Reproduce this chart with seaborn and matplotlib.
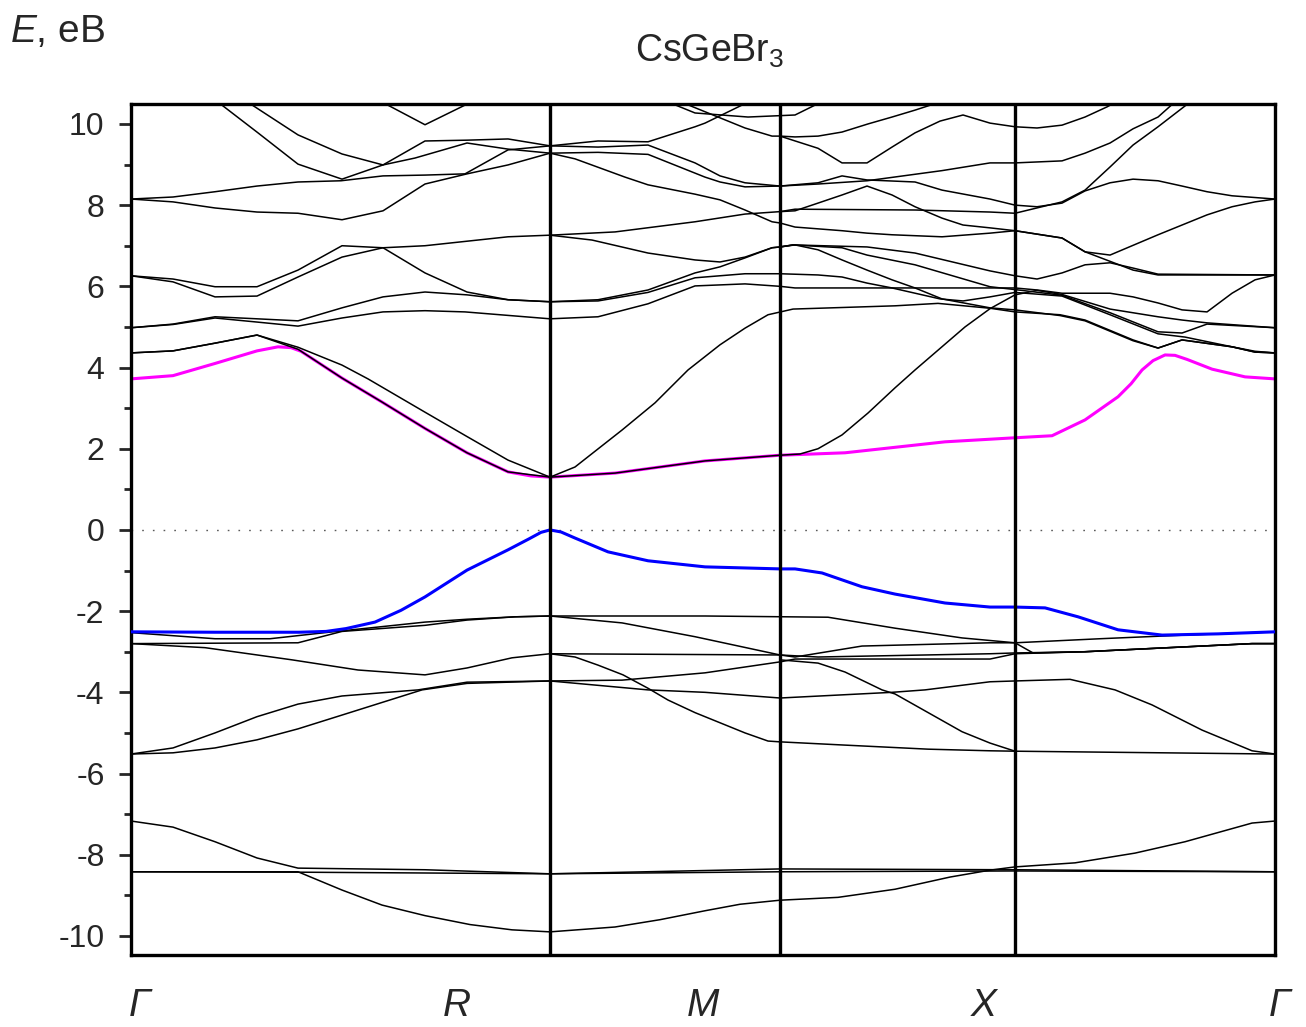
import matplotlib
matplotlib.use("Agg")
import pandas as pd
import seaborn as sns
from matplotlib import pyplot as plt
from matplotlib.ticker import MultipleLocator

# path coordinate of the high-symmetry points (Γ-R-M-X-Γ)
kpoints = [0, 419, 649, 884, 1144]
klabels = ["Γ", "R", "M", "X", "Γ"]
klabel_pos = [0.008, 0.285, 0.5, 0.745, 1.004]   # label centres, axes fraction

# ---- bands, (k, E in eV) -------------------------------------------------
low_1 = [(0, -8.42), (167, -8.42), (211, -8.87), (251, -9.24), (294, -9.5), (339, -9.72),
         (381, -9.85), (419, -9.9), (484, -9.78), (529, -9.6), (574, -9.38), (609, -9.22),
         (649, -9.12), (707, -9.05), (764, -8.85), (819, -8.55), (859, -8.38), (884, -8.3),
         (944, -8.2), (1004, -7.96), (1054, -7.68), (1121, -7.22), (1144, -7.17)]
low_2 = [(0, -7.17), (42, -7.32), (84, -7.68), (126, -8.08), (167, -8.33), (294, -8.37),
         (419, -8.47), (649, -8.35), (884, -8.37), (1144, -8.42)]
low_3 = [(0, -8.42), (167, -8.43), (294, -8.45), (419, -8.47), (649, -8.42), (884, -8.4),
         (1144, -8.42)]

val_1 = [(0, -5.52), (42, -5.49), (84, -5.37), (126, -5.17), (167, -4.9), (211, -4.56),
         (291, -3.94), (336, -3.78), (419, -3.72), (517, -3.94), (574, -4.0), (649, -4.14),
         (761, -4.0), (794, -3.94), (859, -3.74), (884, -3.72), (939, -3.68), (984, -3.94),
         (1021, -4.31), (1071, -4.93), (1121, -5.44), (1144, -5.52)]
val_2 = [(0, -5.52), (42, -5.37), (84, -5.0), (126, -4.6), (167, -4.29), (211, -4.09),
         (287, -3.94), (336, -3.75), (419, -3.72), (491, -3.7), (574, -3.52), (649, -3.25),
         (664, -3.18), (859, -3.18), (884, -3.05), (954, -3.0), (1121, -2.8), (1144, -2.8)]
val_3 = [(0, -2.8), (74, -2.9), (161, -3.2), (227, -3.45), (294, -3.57), (336, -3.4),
         (381, -3.15), (419, -3.05), (574, -3.07), (649, -3.08), (664, -3.13), (731, -2.86),
         (859, -2.78), (884, -2.78), (969, -2.68), (1054, -2.59), (1087, -2.56), (1144, -2.51)]
val_4 = [(0, -2.53), (84, -2.68), (139, -2.68), (194, -2.53), (294, -2.27), (336, -2.2),
         (384, -2.14), (419, -2.12), (574, -2.12), (697, -2.15), (764, -2.42), (831, -2.66),
         (884, -2.78), (902, -3.03), (954, -3.0), (1121, -2.8), (1144, -2.8)]
val_5 = [(0, -2.8), (167, -2.78), (211, -2.5), (294, -2.35), (336, -2.22), (384, -2.14),
         (419, -2.12), (491, -2.29), (564, -2.63), (649, -3.08), (687, -3.13), (859, -3.05),
         (884, -3.03), (954, -3.0), (1121, -2.8), (1144, -2.8)]
val_6 = [(419, -3.05), (444, -3.13), (467, -3.33), (492, -3.57), (517, -3.9), (537, -4.19),
         (564, -4.5), (614, -5.0), (637, -5.2), (649, -5.22), (714, -5.3), (797, -5.4),
         (859, -5.44), (884, -5.45), (1144, -5.52)]
val_7 = [(649, -3.2), (687, -3.28), (714, -3.5), (751, -3.94), (764, -4.04), (831, -4.97),
         (859, -5.25), (884, -5.45)]

# top valence band (blue)
vb_top = [(0, -2.51), (84, -2.52), (168, -2.52), (195, -2.5), (215, -2.43), (244, -2.27),
          (270, -1.98), (294, -1.65), (336, -0.99), (377, -0.49), (398, -0.22), (410, -0.06),
          (419, 0.0), (430, -0.05), (444, -0.2), (477, -0.54), (517, -0.76), (574, -0.91),
          (649, -0.96), (664, -0.96), (691, -1.06), (731, -1.4), (764, -1.58), (814, -1.8),
          (859, -1.9), (884, -1.9), (914, -1.92), (947, -2.14), (987, -2.46), (1031, -2.59),
          (1087, -2.56), (1144, -2.51)]
# bottom conduction band (magenta)
cb_bottom = [(0, 3.72), (42, 3.8), (84, 4.1), (126, 4.41), (147, 4.51), (160, 4.49),
             (170, 4.4), (211, 3.74), (251, 3.15), (294, 2.5), (336, 1.9), (377, 1.43),
             (400, 1.33), (419, 1.3), (484, 1.4), (574, 1.7), (649, 1.84), (714, 1.9),
             (814, 2.17), (884, 2.27), (921, 2.32), (954, 2.71), (987, 3.28), (1000, 3.6),
             (1011, 3.94), (1022, 4.17), (1034, 4.31), (1044, 4.3), (1056, 4.2),
             (1081, 3.96), (1114, 3.77), (1144, 3.72)]

con_1 = [(0, 4.36), (42, 4.41), (84, 4.6), (126, 4.8), (167, 4.45), (211, 3.74), (251, 3.15),
         (294, 2.5), (336, 1.9), (377, 1.43), (419, 1.3), (484, 1.4), (574, 1.7), (649, 1.84),
         (669, 1.87), (687, 2.0), (711, 2.34), (737, 2.88), (764, 3.5), (784, 3.94), (834, 5.0),
         (859, 5.45), (884, 5.79), (906, 5.9), (931, 5.8), (979, 5.44), (1027, 5.25),
         (1051, 5.17), (1076, 5.1), (1144, 4.98)]
con_2 = [(0, 4.36), (42, 4.41), (84, 4.6), (126, 4.8), (167, 4.5), (211, 4.06), (237, 3.72),
         (294, 2.9), (336, 2.3), (377, 1.72), (419, 1.3), (444, 1.55), (491, 2.46), (524, 3.13),
         (557, 3.94), (589, 4.56), (614, 4.97), (637, 5.3), (662, 5.44), (764, 5.52),
         (807, 5.58), (859, 5.46), (884, 5.37), (929, 5.3), (954, 5.17), (1002, 4.68),
         (1027, 4.48), (1051, 4.68), (1101, 4.51), (1124, 4.38), (1144, 4.36)]
con_3 = [(0, 4.98), (42, 5.06), (84, 5.22), (126, 5.12), (167, 5.02), (211, 5.22), (252, 5.37),
         (294, 5.4), (334, 5.37), (419, 5.2), (467, 5.25), (517, 5.57), (564, 6.01), (614, 6.06),
         (649, 6.0), (664, 5.96), (859, 5.96), (884, 5.96), (906, 5.91), (931, 5.83),
         (979, 5.83), (1002, 5.74), (1027, 5.59), (1051, 5.42), (1076, 5.37), (1101, 5.83),
         (1124, 6.16), (1144, 6.28)]
con_4 = [(0, 4.98), (42, 5.07), (84, 5.25), (126, 5.2), (167, 5.15), (211, 5.47), (252, 5.74),
         (294, 5.86), (336, 5.79), (377, 5.67), (419, 5.62), (467, 5.67), (517, 5.91),
         (564, 6.33), (589, 6.48), (614, 6.7), (641, 6.95), (649, 6.97), (662, 7.02),
         (711, 6.95), (736, 6.77), (784, 6.53), (859, 5.99), (884, 5.92), (931, 5.78),
         (979, 5.35), (1027, 4.88), (1051, 4.85), (1076, 5.07), (1144, 4.98)]
con_5 = [(0, 6.26), (42, 6.11), (84, 5.74), (126, 5.76), (167, 6.23), (211, 6.72), (252, 6.95),
         (294, 7.0), (377, 7.22), (419, 7.26), (461, 7.14), (517, 6.82), (564, 6.65),
         (589, 6.6), (614, 6.72), (641, 6.95), (649, 6.97), (664, 7.02), (687, 6.9),
         (711, 6.65), (736, 6.4), (761, 6.16), (784, 5.96), (811, 5.69), (859, 5.47),
         (884, 5.42), (929, 5.28), (954, 5.15), (1002, 4.66), (1027, 4.48), (1051, 4.68),
         (1101, 4.51), (1124, 4.38), (1144, 4.36)]
con_6 = [(0, 6.26), (42, 6.18), (84, 5.99), (126, 5.99), (167, 6.4), (211, 7.0), (252, 6.95),
         (294, 6.33), (336, 5.86), (377, 5.67), (419, 5.62), (467, 5.64), (517, 5.85),
         (564, 6.21), (614, 6.31), (649, 6.31), (687, 6.28), (711, 6.23), (736, 6.08),
         (761, 5.96), (809, 5.69), (832, 5.64), (859, 5.74), (884, 5.85), (931, 5.76),
         (979, 5.3), (1027, 4.83), (1054, 4.75), (1101, 4.51), (1124, 4.4), (1144, 4.36)]
con_7 = [(419, 7.26), (484, 7.34), (564, 7.59), (614, 7.78), (649, 7.84), (664, 7.86),
         (687, 8.05), (711, 8.25), (736, 8.47), (761, 8.25), (784, 7.96), (811, 7.68),
         (832, 7.51), (859, 7.44), (884, 7.37), (931, 7.19), (954, 6.85), (979, 6.77),
         (1027, 7.27), (1076, 7.76), (1101, 7.96), (1124, 8.08), (1144, 8.15)]
con_8 = [(649, 6.97), (662, 7.02), (736, 6.97), (784, 6.82), (859, 6.38), (884, 6.26),
         (906, 6.18), (931, 6.33), (954, 6.53), (979, 6.58), (1002, 6.45), (1027, 6.3),
         (1144, 6.28)]
con_9 = [(0, 8.15), (42, 8.08), (84, 7.93), (126, 7.83), (167, 7.8), (211, 7.64), (252, 7.86),
         (294, 8.52), (336, 8.77), (377, 8.99), (419, 9.28), (444, 9.14), (494, 8.69),
         (517, 8.5), (564, 8.27), (589, 8.13), (614, 7.88), (641, 7.59), (649, 7.56),
         (664, 7.46), (711, 7.37), (736, 7.31), (761, 7.27), (811, 7.22), (859, 7.31),
         (884, 7.37), (931, 7.19), (954, 6.85), (1002, 6.4), (1027, 6.28), (1144, 6.28)]
con_10 = [(0, 8.15), (42, 8.2), (84, 8.33), (126, 8.47), (167, 8.57), (210, 8.6), (252, 8.72),
          (294, 8.74), (334, 8.77), (377, 9.36), (419, 9.46), (467, 9.43), (517, 9.48),
          (564, 9.04), (589, 8.72), (614, 8.55), (649, 8.47), (687, 8.55), (711, 8.72),
          (736, 8.62), (784, 8.57), (811, 8.37), (859, 8.15), (884, 8.0), (906, 7.96),
          (931, 8.05), (954, 8.35), (979, 8.55), (1002, 8.64), (1027, 8.6), (1051, 8.47),
          (1076, 8.33), (1101, 8.23), (1144, 8.15)]
con_11 = [(119, 10.5), (167, 9.73), (211, 9.26), (252, 8.99), (284, 9.16), (336, 9.53),
          (377, 9.38), (419, 9.28), (467, 9.3), (517, 9.25), (574, 8.69), (589, 8.57),
          (614, 8.45), (649, 8.47), (687, 8.52), (736, 8.6), (811, 8.85), (859, 9.04),
          (884, 9.04), (931, 9.09), (954, 9.28), (979, 9.53), (1002, 9.88), (1027, 10.17),
          (1042, 10.5)]
con_12 = [(89, 10.5), (127, 9.78), (167, 9.01), (211, 8.64), (252, 8.99), (294, 9.58),
          (336, 9.6), (377, 9.63), (419, 9.46), (467, 9.58), (517, 9.56), (564, 9.93),
          (574, 10.02), (614, 10.5)]
con_13 = [(254, 10.5), (294, 9.98), (337, 10.5)]
con_14 = [(649, 7.84), (664, 7.9), (784, 7.88), (859, 7.83), (884, 7.8), (931, 8.08),
          (954, 8.37), (979, 8.94), (1002, 9.48), (1027, 9.93), (1057, 10.5)]
con_15 = [(554, 10.5), (614, 9.9), (641, 9.7), (649, 9.7), (664, 9.68), (687, 9.7), (711, 9.8),
          (737, 10.0), (761, 10.17), (784, 10.34), (804, 10.5)]
con_16 = [(649, 9.7), (687, 9.4), (711, 9.04), (736, 9.04), (761, 9.43), (784, 9.78),
          (809, 10.07), (832, 10.22), (859, 10.02), (884, 9.93), (906, 9.9), (931, 9.97),
          (954, 10.17), (976, 10.42), (982, 10.5)]
con_17 = [(541, 10.5), (564, 10.27), (617, 10.17), (664, 10.22), (687, 10.5)]

black_bands = [low_1, low_2, low_3, val_1, val_2, val_3, val_4, val_5, val_6, val_7,
               con_1, con_2, con_3, con_4, con_5, con_6, con_7, con_8, con_9, con_10,
               con_11, con_12, con_13, con_14, con_15, con_16, con_17]


def to_frame(bands):
    rows = []
    for i, band in enumerate(bands):
        for k, e in band:
            rows.append({"band": i, "k": k, "E": e})
    return pd.DataFrame(rows)


sns.set_theme(style="white")
plt.rcParams["font.family"] = ["Liberation Sans", "DejaVu Sans"]
plt.rcParams["mathtext.fontset"] = "custom"
plt.rcParams["mathtext.rm"] = "Liberation Sans"
plt.rcParams["mathtext.it"] = "Liberation Sans:italic"
plt.rcParams["axes.unicode_minus"] = False

fig, ax = plt.subplots(figsize=(13.06, 10.27), dpi=100)
fig.subplots_adjust(left=0.1003, right=0.9763, bottom=0.0701, top=0.8987)

# magenta under the black bands, blue on top (as in the original)
sns.lineplot(data=to_frame([cb_bottom]), x="k", y="E", units="band", estimator=None,
             color="#ff00ff", lw=2.2, ax=ax, zorder=2)
sns.lineplot(data=to_frame(black_bands), x="k", y="E", units="band", estimator=None,
             color="black", lw=1.1, ax=ax, zorder=3)
sns.lineplot(data=to_frame([vb_top]), x="k", y="E", units="band", estimator=None,
             color="#0000ff", lw=2.2, ax=ax, zorder=4)

for k in kpoints[1:-1]:
    ax.axvline(k, color="black", lw=2.4, zorder=5)
ax.axhline(0, color="0.35", lw=1.0, ls=(0, (1.2, 6.5)), zorder=1)

ax.set_xlim(kpoints[0], kpoints[-1])
ax.set_ylim(-10.47, 10.49)
ax.set_xticks([])
ax.yaxis.set_major_locator(MultipleLocator(2))
ax.yaxis.set_minor_locator(MultipleLocator(1))
ax.tick_params(axis="y", which="major", direction="out", length=9, width=2, pad=10,
               labelsize=23, left=True, right=False)
ax.tick_params(axis="y", which="minor", direction="out", length=5, width=2, left=True)
ax.set_xlabel("")
ax.set_ylabel("")
for side in ax.spines.values():
    side.set_linewidth(2.4)
    side.set_color("black")

for lab, pos in zip(klabels, klabel_pos):
    ax.text(pos, -0.0815, lab, transform=ax.transAxes, ha="center", va="bottom",
            fontsize=28, style="italic")

fig.text(0.008, 0.959, r"$E$, eB", fontsize=28, ha="left", va="baseline")
fig.text(0.543, 0.94, r"CsGeBr$_3$", fontsize=27, ha="center", va="baseline")

fig.savefig("out.png", dpi=100)
